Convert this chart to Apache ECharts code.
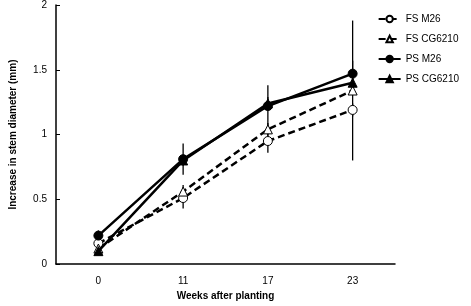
<!DOCTYPE html>
<html>
<head>
<meta charset="utf-8">
<script src="https://cdn.jsdelivr.net/npm/echarts@6/dist/echarts.min.js"></script>
<style>
  html, body { margin: 0; padding: 0; background: #fff; }
  #chart { width: 471px; height: 306px; }
</style>
</head>
<body>
<div id="chart"></div>
<script>
// semaines après plantation
const weeks = ['0', '11', '17', '23'];

// moyennes
const fsM26 = [0.16, 0.51, 0.95, 1.19];
const fsCG6210 = [0.12, 0.56, 1.04, 1.34];
const psM26 = [0.22, 0.81, 1.22, 1.47];
const psCG6210 = [0.10, 0.80, 1.24, 1.40];

// demi-barres d'erreur
const fsM26Err = [0.02, 0.08, 0.09, 0.05];
const fsCG6210Err = [0.02, 0.05, 0.05, 0.54];
const psM26Err = [0.04, 0.12, 0.16, 0.10];
const psCG6210Err = [0.02, 0.04, 0.05, 0.08];

const yTicks = [0, 0.5, 1, 1.5, 2];

const font = 'Liberation Sans, Arial, sans-serif';

function errData(vals, errs) {
  return vals.map((v, i) => [i, v - errs[i], v + errs[i]]);
}

function errSeries(vals, errs) {
  return {
    type: 'custom',
    silent: true,
    z: 1,
    renderItem: function (params, api) {
      const top = api.coord([api.value(0), api.value(2)]);
      const bot = api.coord([api.value(0), api.value(1)]);
      return {
        type: 'line',
        shape: { x1: top[0], y1: top[1], x2: bot[0], y2: bot[1] },
        style: { stroke: '#000', lineWidth: 1.3 }
      };
    },
    data: errData(vals, errs)
  };
}

function lineSeries(name, data, symbol, filled, dashed) {
  return {
    name: name,
    type: 'line',
    data: data,
    symbol: symbol,
    symbolSize: 9,
    z: filled ? 4 : 3,
    lineStyle: { color: '#000', width: 2.5, type: dashed ? [7, 4] : 'solid' },
    itemStyle: { color: filled ? '#000' : '#fff', borderColor: '#000', borderWidth: 1 },
    emphasis: { disabled: true }
  };
}

const chart = echarts.init(document.getElementById('chart'));
chart.setOption({
  animation: false,
  backgroundColor: '#fff',
  grid: { left: 48, top: 4, right: 76, bottom: 37 },
  legend: {
    right: 7,
    top: 9,
    orient: 'vertical',
    itemGap: 10,
    itemWidth: 22,
    itemHeight: 8,
    textStyle: { fontFamily: font, fontSize: 10, color: '#000' },
    data: ['FS M26', 'FS CG6210', 'PS M26', 'PS CG6210']
  },
  xAxis: {
    type: 'category',
    data: weeks,
    boundaryGap: true,
    name: 'Weeks after planting',
    nameLocation: 'middle',
    nameGap: 23,
    nameTextStyle: { fontFamily: font, fontSize: 10, fontWeight: 'bold', color: '#000' },
    axisLine: { lineStyle: { color: '#000', width: 1.5 } },
    axisTick: { inside: true, length: 4, lineStyle: { color: '#000' } },
    axisLabel: { fontFamily: font, fontSize: 10, color: '#000', margin: 12 },
    splitLine: { show: false }
  },
  yAxis: {
    type: 'value',
    min: yTicks[0],
    max: yTicks[yTicks.length - 1],
    interval: 0.5,
    name: 'Increase in stem diameter (mm)',
    nameLocation: 'middle',
    nameGap: 38,
    nameTextStyle: { fontFamily: font, fontSize: 10, fontWeight: 'bold', color: '#000' },
    axisLine: { show: true, lineStyle: { color: '#000', width: 1.5 } },
    axisTick: { show: true, inside: true, length: 4, lineStyle: { color: '#000' } },
    axisLabel: { fontFamily: font, fontSize: 10, color: '#000', margin: 9 },
    splitLine: { show: false }
  },
  series: [
    errSeries(fsM26, fsM26Err),
    errSeries(fsCG6210, fsCG6210Err),
    errSeries(psM26, psM26Err),
    errSeries(psCG6210, psCG6210Err),
    lineSeries('FS M26', fsM26, 'circle', false, true),
    lineSeries('FS CG6210', fsCG6210, 'triangle', false, true),
    lineSeries('PS M26', psM26, 'circle', true, false),
    lineSeries('PS CG6210', psCG6210, 'triangle', true, false)
  ]
});
</script>
</body>
</html>
